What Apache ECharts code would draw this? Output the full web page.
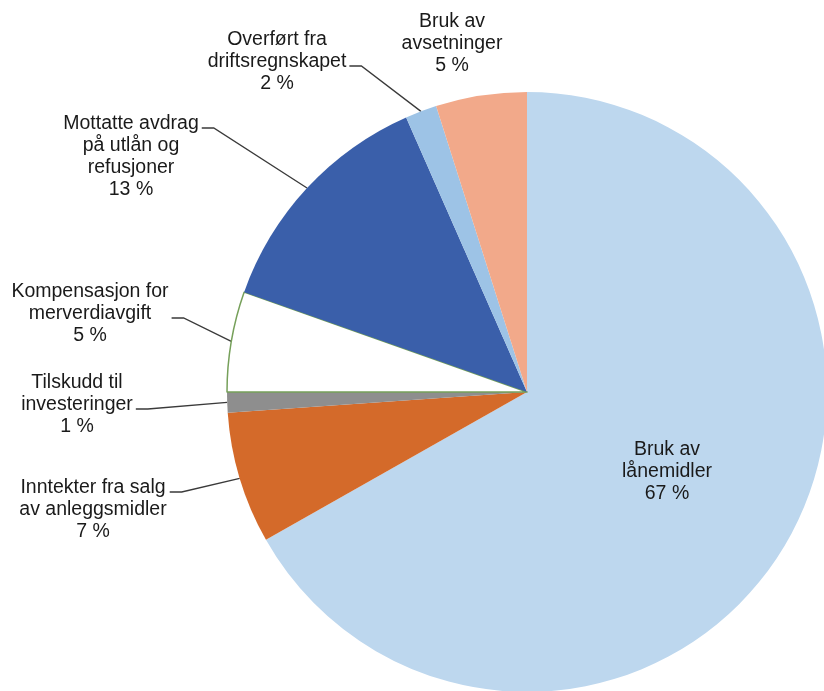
<!DOCTYPE html>
<html>
<head>
<meta charset="utf-8">
<script src="https://cdn.jsdelivr.net/npm/echarts@6/dist/echarts.min.js"></script>
<style>
html,body{margin:0;padding:0;background:#fff;}
#main{width:824px;height:691px;}
</style>
</head>
<body>
<div id="main"></div>
<script>
// ---- data ----
const categories = [
  'Bruk av lånemidler',
  'Inntekter fra salg av anleggsmidler',
  'Tilskudd til investeringer',
  'Kompensasjon for merverdiavgift',
  'Mottatte avdrag på utlån og refusjoner',
  'Overført fra driftsregnskapet',
  'Bruk av avsetninger'
];
const labelTextLines = [
  ['Bruk av', 'lånemidler'],
  ['Inntekter fra salg', 'av anleggsmidler'],
  ['Tilskudd til', 'investeringer'],
  ['Kompensasjon for', 'merverdiavgift'],
  ['Mottatte avdrag', 'på utlån og', 'refusjoner'],
  ['Overført fra', 'driftsregnskapet'],
  ['Bruk av', 'avsetninger']
];
const values = [66.8, 7.1, 1.1, 5.4, 13.0, 1.7, 4.9];

// ---- styling / layout (not data) ----
const colors = ['#BDD7EE', '#D46A2A', '#8E8E8E', '#FFFFFF', '#3A5FAA', '#9DC3E6', '#F2A98A'];
const labelCenters = [[667, 472], [93, 510], [77, 405], [90, 314], [131, 157], [277, 62], [452, 44]];
const guideLineIndex = [null, 0, 1, 1, 0, 1, null];
const LH = 22;

const chart = echarts.init(document.getElementById('main'), null, {renderer: 'canvas'});

const seriesData = categories.map((name, i) => {
  const item = {
    name: name,
    value: values[i],
    itemStyle: {color: colors[i]}
  };
  if (i === 3) {
    item.itemStyle.borderColor = '#76A05A';
    item.itemStyle.borderWidth = 1.5;
  }
  if (i === 0) {
    item.label = {position: 'inside'};
  }
  if (guideLineIndex[i] === null) {
    item.labelLine = {show: false};
  }
  return item;
});

const option = {
  backgroundColor: '#ffffff',
  animation: false,
  series: [{
    type: 'pie',
    center: [527, 392],
    radius: 300,
    startAngle: 90,
    clockwise: true,
    avoidLabelOverlap: false,
    data: seriesData,
    label: {
      show: true,
      position: 'outside',
      fontFamily: '"Liberation Sans", Arial, sans-serif',
      fontSize: 19.5,
      lineHeight: LH,
      color: '#1a1a1a',
      align: 'center',
      formatter: function (p) {
        return labelTextLines[p.dataIndex].concat([Math.round(p.value) + ' %']).join('\n');
      }
    },
    labelLine: {
      show: true,
      length: 10,
      length2: 10,
      lineStyle: {color: '#3a3a3a', width: 1.3}
    },
    labelLayout: function (params) {
      const i = params.dataIndex;
      const c = labelCenters[i];
      const res = {x: c[0], y: c[1], align: 'center', verticalAlign: 'middle'};
      const gi = guideLineIndex[i];
      if (gi !== null && params.labelLinePoints) {
        const n = labelTextLines[i].length + 1;
        const top = c[1] - n * LH / 2;
        const ay = top + LH / 2 + LH * gi + 4;
        const right = c[0] + params.labelRect.width / 2;
        res.labelLinePoints = [
          params.labelLinePoints[0],
          [right + 15, ay],
          [right + 3, ay]
        ];
      }
      return res;
    }
  }]
};
chart.setOption(option);
</script>
</body>
</html>
